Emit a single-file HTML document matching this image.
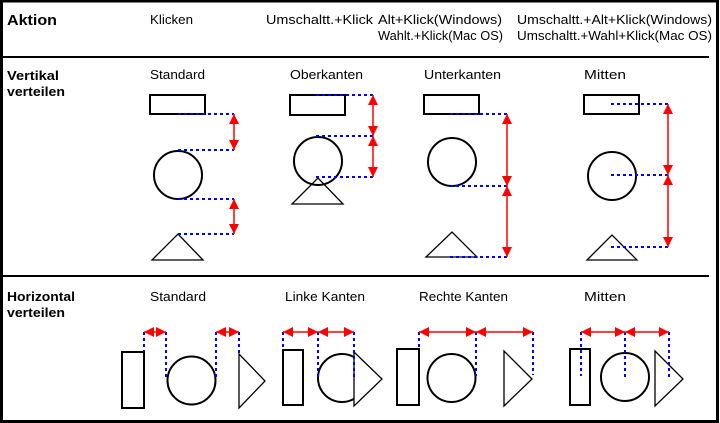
<!DOCTYPE html>
<html><head><meta charset="utf-8"><style>
html,body{margin:0;padding:0;background:#fff}
svg{display:block}
text{font-family:"Liberation Sans",sans-serif;font-size:12.5px;fill:#000}
.b{font-weight:bold;font-size:13px}
.d{stroke:#0000ff;stroke-width:2;stroke-dasharray:3,3;fill:none}
.r{stroke:#ff0000;stroke-width:1.5}
.h{fill:#ff0000}
.s{fill:none;stroke:#000;stroke-width:2}
.t{fill:none;stroke:#000;stroke-width:1.3}
</style></head><body>
<svg width="720" height="423" viewBox="0 0 720 423" xmlns="http://www.w3.org/2000/svg">
<rect x="1.5" y="1" width="716" height="420.5" fill="none" stroke="#000" stroke-width="3"/>
<line x1="3" y1="57" x2="709" y2="57" stroke="#000" stroke-width="2"/>
<line x1="3" y1="276" x2="709" y2="276" stroke="#000" stroke-width="2"/>

<text class="b" x="7" y="25" style="font-size:15px" textLength="50" lengthAdjust="spacingAndGlyphs">Aktion</text>
<text x="150" y="24" textLength="43" lengthAdjust="spacingAndGlyphs">Klicken</text>
<text x="266" y="24" textLength="107" lengthAdjust="spacingAndGlyphs">Umschaltt.+Klick</text>
<text x="378" y="24" textLength="124" lengthAdjust="spacingAndGlyphs">Alt+Klick(Windows)</text>
<text x="378" y="40" textLength="125" lengthAdjust="spacingAndGlyphs">Wahlt.+Klick(Mac OS)</text>
<text x="517" y="24" textLength="195" lengthAdjust="spacingAndGlyphs">Umschaltt.+Alt+Klick(Windows)</text>
<text x="517" y="40" textLength="195" lengthAdjust="spacingAndGlyphs">Umschaltt.+Wahl+Klick(Mac OS)</text>

<text class="b" x="7" y="80" textLength="52" lengthAdjust="spacingAndGlyphs">Vertikal</text>
<text class="b" x="7" y="96" textLength="58" lengthAdjust="spacingAndGlyphs">verteilen</text>
<text x="150" y="79" textLength="55" lengthAdjust="spacingAndGlyphs">Standard</text>
<text x="290" y="79" textLength="73" lengthAdjust="spacingAndGlyphs">Oberkanten</text>
<text x="424" y="79" textLength="77" lengthAdjust="spacingAndGlyphs">Unterkanten</text>
<text x="584" y="79" textLength="42" lengthAdjust="spacingAndGlyphs">Mitten</text>

<text class="b" x="7" y="301" textLength="68" lengthAdjust="spacingAndGlyphs">Horizontal</text>
<text class="b" x="7" y="317" textLength="58" lengthAdjust="spacingAndGlyphs">verteilen</text>
<text x="150" y="301" textLength="56" lengthAdjust="spacingAndGlyphs">Standard</text>
<text x="285" y="301" textLength="80" lengthAdjust="spacingAndGlyphs">Linke Kanten</text>
<text x="419" y="301" textLength="89" lengthAdjust="spacingAndGlyphs">Rechte Kanten</text>
<text x="584" y="301" textLength="42" lengthAdjust="spacingAndGlyphs">Mitten</text>

<!-- Vertikal Standard -->
<rect class="s" x="150" y="95" width="55" height="19"/>
<circle class="s" cx="178" cy="175" r="24"/>
<polygon class="t" points="152,260 178,234 203,260"/>
<line class="d" x1="178" y1="114" x2="234" y2="114"/>
<line class="d" x1="178" y1="150" x2="234" y2="150"/>
<line class="d" x1="178" y1="199" x2="234" y2="199"/>
<line class="d" x1="178" y1="234" x2="234" y2="234"/>
<line class="r" x1="234" y1="114" x2="234" y2="150"/>
<polygon class="h" points="234,114 229,124 239,124"/><polygon class="h" points="234,150 229,140 239,140"/>
<line class="r" x1="234" y1="199" x2="234" y2="234"/>
<polygon class="h" points="234,199 229,209 239,209"/><polygon class="h" points="234,234 229,224 239,224"/>

<!-- Oberkanten -->
<rect class="s" x="290" y="95" width="55" height="20"/>
<circle class="s" cx="318" cy="161" r="24"/>
<polygon class="t" points="292,204 318,178 343,204"/>
<line class="d" x1="316" y1="95" x2="373" y2="95"/>
<line class="d" x1="316" y1="136" x2="373" y2="136"/>
<line class="d" x1="316" y1="177" x2="373" y2="177"/>
<line class="r" x1="373" y1="95" x2="373" y2="177"/>
<polygon class="h" points="373,95 368,105 378,105"/><polygon class="h" points="373,136 368,126 378,126"/>
<polygon class="h" points="373,136 368,146 378,146"/><polygon class="h" points="373,177 368,167 378,167"/>

<!-- Unterkanten -->
<rect class="s" x="424" y="95" width="55" height="19"/>
<circle class="s" cx="452" cy="162" r="24"/>
<polygon class="t" points="426,257 452,232 477,257"/>
<line class="d" x1="450" y1="114" x2="507" y2="114"/>
<line class="d" x1="450" y1="186" x2="507" y2="186"/>
<line class="d" x1="450" y1="257" x2="507" y2="257"/>
<line class="r" x1="507" y1="114" x2="507" y2="257"/>
<polygon class="h" points="507,114 502,124 512,124"/><polygon class="h" points="507,186 502,176 512,176"/>
<polygon class="h" points="507,186 502,196 512,196"/><polygon class="h" points="507,257 502,247 512,247"/>

<!-- Mitten vertical -->
<rect class="s" x="584" y="95" width="55" height="19"/>
<circle class="s" cx="612" cy="176" r="24"/>
<polygon class="t" points="587,260 612,235 637,260"/>
<line class="d" x1="611" y1="104" x2="668" y2="104"/>
<line class="d" x1="611" y1="175" x2="668" y2="175"/>
<line class="d" x1="611" y1="247" x2="668" y2="247"/>
<line class="r" x1="668" y1="104" x2="668" y2="247"/>
<polygon class="h" points="668,104 663,114 673,114"/><polygon class="h" points="668,175 663,165 673,165"/>
<polygon class="h" points="668,175 663,185 673,185"/><polygon class="h" points="668,247 663,237 673,237"/>

<!-- Horizontal Standard -->
<rect class="s" x="122" y="352" width="22" height="56"/>
<circle class="s" cx="191.5" cy="380.5" r="24"/>
<polygon class="t" points="239,354 265,381 239,408"/>
<line class="d" x1="144" y1="332" x2="144" y2="352"/>
<line class="d" x1="166" y1="332" x2="166" y2="378"/>
<line class="d" x1="216" y1="332" x2="216" y2="380"/>
<line class="d" x1="239" y1="332" x2="239" y2="355"/>
<line class="r" x1="144" y1="332" x2="166" y2="332"/>
<polygon class="h" points="144,332 154,327 154,337"/><polygon class="h" points="166,332 156,327 156,337"/>
<line class="r" x1="216" y1="332" x2="239" y2="332"/>
<polygon class="h" points="216,332 226,327 226,337"/><polygon class="h" points="239,332 229,327 229,337"/>

<!-- Linke Kanten -->
<rect class="s" x="283" y="350" width="20" height="55"/>
<circle class="s" cx="342" cy="378" r="24"/>
<polygon class="t" points="354,352 382,379 354,406" style="fill:#fff"/>
<line class="d" x1="283" y1="332" x2="283" y2="350"/>
<line class="d" x1="318" y1="332" x2="318" y2="378"/>
<line class="d" x1="354" y1="332" x2="354" y2="378"/>
<line class="r" x1="283" y1="332" x2="354" y2="332"/>
<polygon class="h" points="283,332 293,327 293,337"/><polygon class="h" points="318,332 308,327 308,337"/>
<polygon class="h" points="318,332 328,327 328,337"/><polygon class="h" points="354,332 344,327 344,337"/>

<!-- Rechte Kanten -->
<rect class="s" x="397" y="349" width="22" height="56"/>
<circle class="s" cx="451.5" cy="378" r="24"/>
<polygon class="t" points="504,351 532,379 504,406"/>
<line class="d" x1="419" y1="332" x2="419" y2="350"/>
<line class="d" x1="476" y1="332" x2="476" y2="376"/>
<line class="d" x1="533" y1="332" x2="533" y2="375"/>
<line class="r" x1="419" y1="332" x2="533" y2="332"/>
<polygon class="h" points="419,332 429,327 429,337"/><polygon class="h" points="476,332 466,327 466,337"/>
<polygon class="h" points="476,332 486,327 486,337"/><polygon class="h" points="533,332 523,327 523,337"/>

<!-- Mitten horizontal -->
<rect class="s" x="570" y="349" width="20" height="56"/>
<circle class="s" cx="625" cy="377" r="24"/>
<polygon class="t" points="655,351 683,379 655,406"/>
<line class="d" x1="581" y1="332" x2="581" y2="376"/>
<line class="d" x1="625" y1="332" x2="625" y2="378"/>
<line class="d" x1="669" y1="332" x2="669" y2="380"/>
<line class="r" x1="581" y1="332" x2="669" y2="332"/>
<polygon class="h" points="581,332 591,327 591,337"/><polygon class="h" points="625,332 615,327 615,337"/>
<polygon class="h" points="625,332 635,327 635,337"/><polygon class="h" points="669,332 659,327 659,337"/>
</svg>
</body></html>
